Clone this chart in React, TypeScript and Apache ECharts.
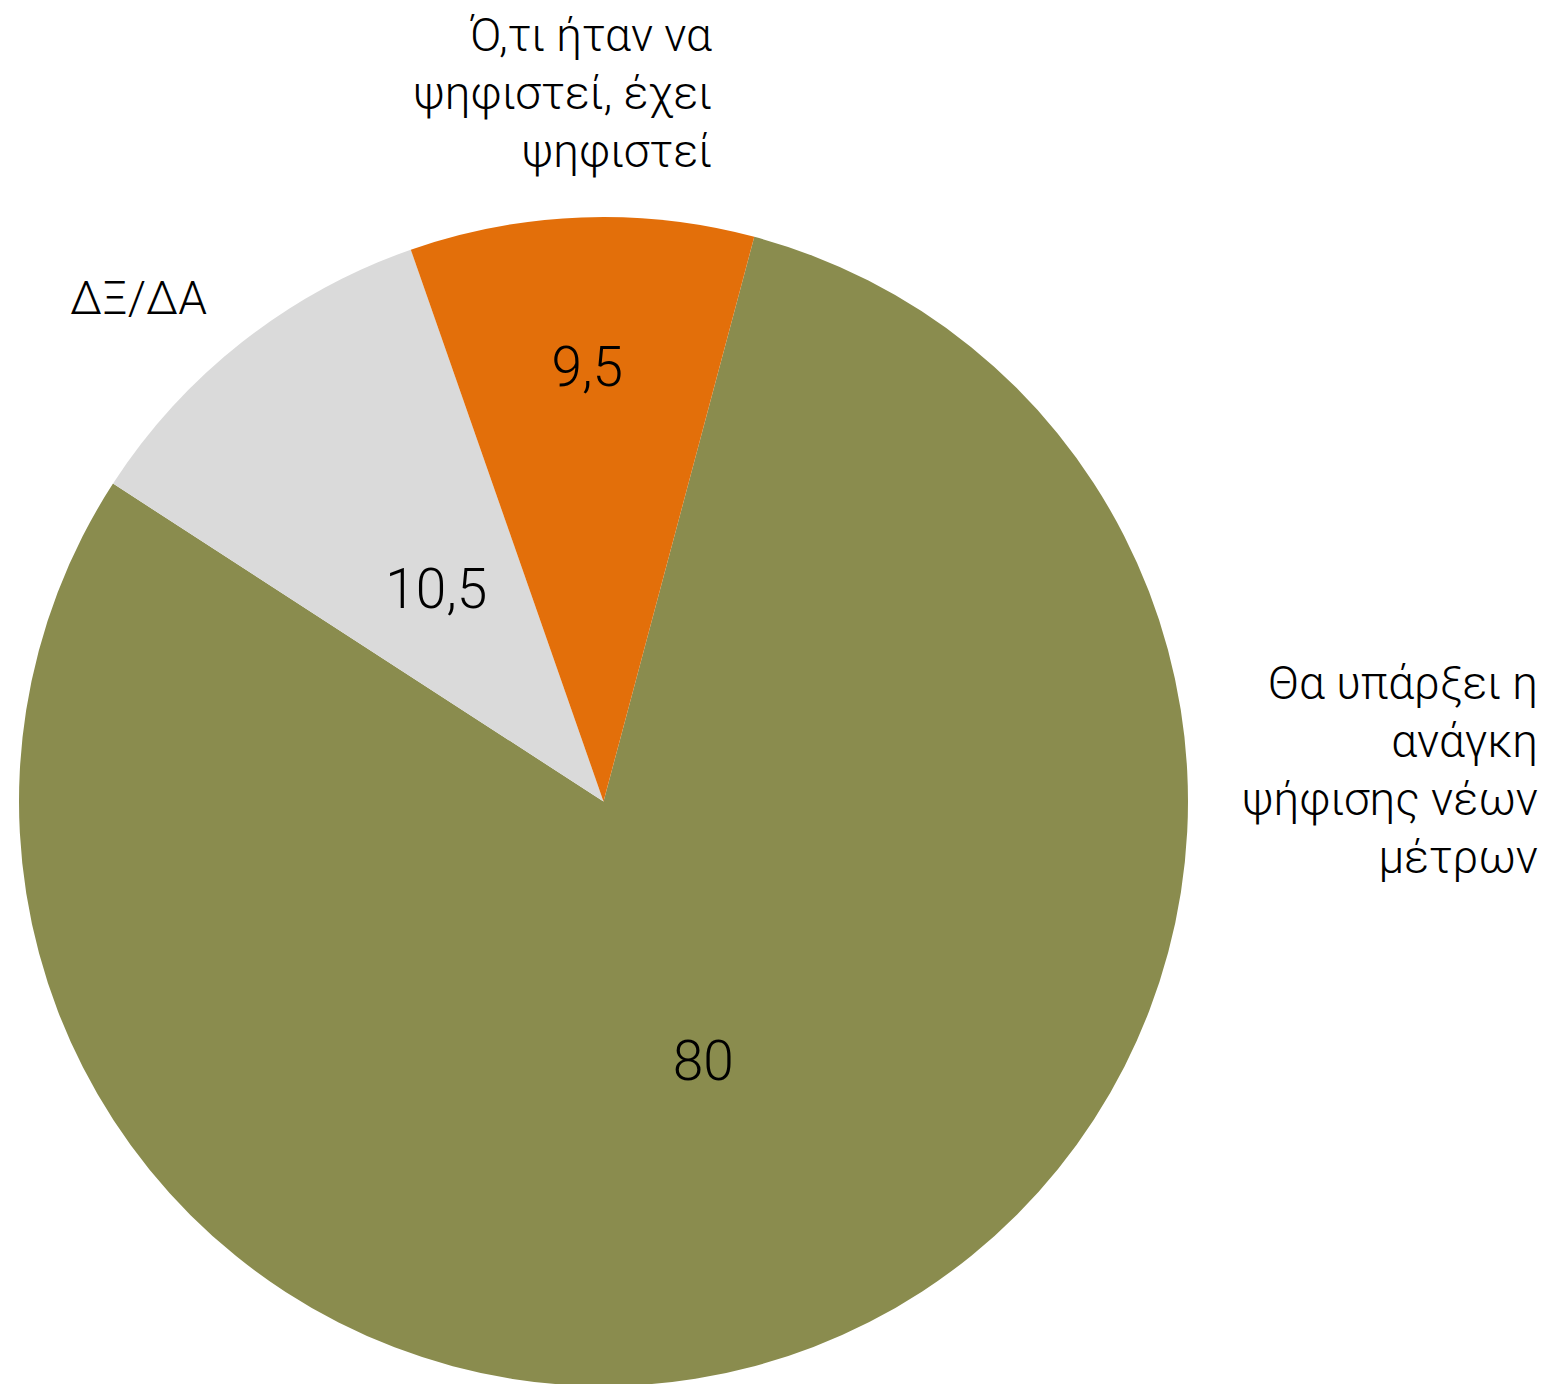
import React, { useEffect, useRef } from "react";
import * as echarts from "echarts";

const categories = [
  "Θα υπάρξει η ανάγκη ψήφισης νέων μέτρων",
  "ΔΞ/ΔΑ",
  "Ό,τι ήταν να ψηφιστεί, έχει ψηφιστεί",
];
const values = [80, 10.5, 9.5];
const valueLabels = ["80", "10,5", "9,5"];
const outerLabelLines = [
  ["Θα υπάρξει η", "ανάγκη", "ψήφισης νέων", "μέτρων"],
  ["ΔΞ/ΔΑ"],
  ["Ό,τι ήταν να", "ψηφιστεί, έχει", "ψηφιστεί"],
];
const colors = ["#8A8C4E", "#DADADA", "#E36F0A"];

const CX = 603.5;
const CY = 801.5;
const R = 584.5;
const START_FROM_TOP = 14.95; // degrees clockwise from 12 o'clock
const innerFrac = [0.475, 0.463, 0.744];
const outerAnchors = [
  { x: 1538, y: 770, align: "right" },
  { x: 70, y: 298, align: "left" },
  { x: 712, y: 93, align: "right" },
];
const FONT = "'Roboto', 'Open Sans', 'Liberation Sans', sans-serif";

export default function App() {
  const ref = useRef<HTMLDivElement>(null);
  useEffect(() => {
    document.body.style.margin = "0";
    if (!ref.current) return;
    const chart = echarts.init(ref.current, null, { renderer: "svg" });
    const total = values.reduce((a, b) => a + b, 0);
    const midAngles: number[] = [];
    let acc = 0;
    values.forEach((v) => {
      midAngles.push(START_FROM_TOP + ((acc + v / 2) / total) * 360);
      acc += v;
    });
    const data = categories.map((name, i) => ({
      name,
      value: values[i],
      itemStyle: { color: colors[i] },
    }));
    chart.setOption({
      animation: false,
      backgroundColor: "#ffffff",
      series: [
        {
          type: "pie",
          center: [CX, CY],
          radius: R,
          startAngle: 90 - START_FROM_TOP,
          clockwise: true,
          silent: true,
          data,
          itemStyle: { borderWidth: 0 },
          label: {
            show: true,
            position: "inside",
            formatter: (p: any) => valueLabels[p.dataIndex],
            fontFamily: FONT,
            fontWeight: 300,
            fontSize: 55,
            color: "#000000",
          },
          labelLine: { show: false },
          labelLayout: (p: any) => {
            const i = p.dataIndex;
            const a = (midAngles[i] * Math.PI) / 180;
            const d = innerFrac[i] * R;
            return {
              x: CX + d * Math.sin(a),
              y: CY - d * Math.cos(a),
              align: "center",
              verticalAlign: "middle",
            };
          },
        },
        {
          type: "pie",
          center: [CX, CY],
          radius: R,
          startAngle: 90 - START_FROM_TOP,
          clockwise: true,
          silent: true,
          data: categories.map((name, i) => ({
            name,
            value: values[i],
            itemStyle: { color: "rgba(0,0,0,0)" },
          })),
          label: {
            show: true,
            position: "outside",
            formatter: (p: any) => outerLabelLines[p.dataIndex].join("\n"),
            fontFamily: FONT,
            fontWeight: 300,
            fontSize: 46,
            lineHeight: 58,
            color: "#000000",
          },
          labelLine: { show: false },
          labelLayout: (p: any) => {
            const o = outerAnchors[p.dataIndex];
            return {
              x: o.x,
              y: o.y,
              align: o.align,
              verticalAlign: "middle",
            };
          },
        },
      ],
    });
    return () => chart.dispose();
  }, []);
  return <div ref={ref} style={{ width: 1551, height: 1384 }} />;
}
